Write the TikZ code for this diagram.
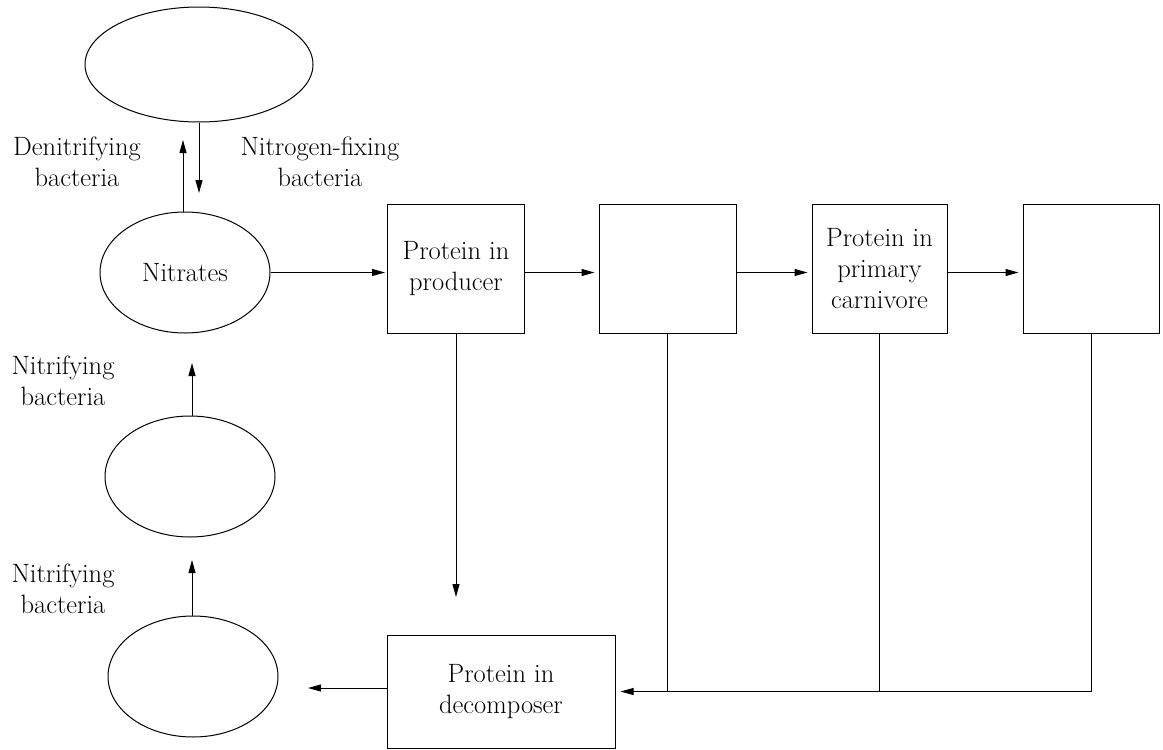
\documentclass[tikz,border=0pt]{standalone}
\usetikzlibrary{shapes.geometric,arrows.meta}
\begin{document}
\begin{tikzpicture}[x=1pt,y=-1pt,
  every node/.style={font=\fontsize{26.5}{31}\selectfont},
  line/.style={line width=1pt},
  arr/.style={line, -{Triangle[length=13pt,width=7pt]}},
  pool/.style={draw, line width=1pt, ellipse, inner sep=0pt},
  stock/.style={draw, line width=1pt, rectangle, inner sep=0pt, align=center},
  lab/.style={align=center, inner sep=0pt}]
\useasboundingbox (0,0) rectangle (1163,750);

% nitrogen pools
\node[pool, minimum width=228pt, minimum height=115pt] (air) at (199,64.5) {};
\node[pool, minimum width=170pt, minimum height=121pt] (nit) at (185,272.5) {Nitrates};
\node[pool, minimum width=170pt, minimum height=121pt] (mid) at (190,476.5) {};
\node[pool, minimum width=170pt, minimum height=121pt] (bot) at (193,676.5) {};

% protein stores
\node[stock, minimum width=137pt, minimum height=129pt] (prod) at (456,268.5) {Protein in\\producer};
\node[stock, minimum width=137pt, minimum height=129pt] (herb) at (667.5,268.5) {};
\node[stock, minimum width=135pt, minimum height=129pt] (carn) at (879.5,268.5) {Protein in\\primary\\carnivore};
\node[stock, minimum width=136pt, minimum height=129pt] (top) at (1091,268.5) {};
\node[stock, minimum width=228pt, minimum height=113pt] (dec) at (501,691.5) {Protein in\\decomposer};

% labels
\node[lab] (den) at (77,162) {Denitrifying\\bacteria};
\node[lab] (fix) at (320,162) {Nitrogen-fixing\\bacteria};
\node[lab] (nr1) at (63,381) {Nitrifying\\bacteria};
\node[lab] (nr2) at (63,589) {Nitrifying\\bacteria};

% free arrow ends
\coordinate (denTip) at (183,140);
\coordinate (fixTip) at (199,193);
\coordinate (nr1Tip) at (192,363);
\coordinate (nr2Tip) at (192,560);
\coordinate (decTip) at (456,597);
\coordinate (outTip) at (308,688);

% exchanges with the air
\draw[arr] (denTip |- nit.north) -- (denTip);
\draw[arr] (air.south) -- (fixTip);

% nitrification
\draw[arr] (nr1Tip |- mid.north) -- (nr1Tip);
\draw[arr] (nr2Tip |- bot.north) -- (nr2Tip);

% food chain
\draw[arr, shorten >=2pt] (nit.east) -- (prod.west |- nit.east);
\draw[arr, shorten >=4pt] (prod.east |- nit.east) -- (herb.west |- nit.east);
\draw[arr, shorten >=4pt] (herb.east |- nit.east) -- (carn.west |- nit.east);
\draw[arr, shorten >=4pt] (carn.east |- nit.east) -- (top.west |- nit.east);

% dead matter to decomposers
\draw[arr] (prod.south) -- (decTip);
\draw[line] (herb.south) -- (herb.south |- dec.east);
\draw[line] (carn.south) -- (carn.south |- dec.east);
\draw[arr, shorten >=5pt] (top.south) |- (dec.east);

% decomposer output
\draw[arr] (dec.west |- outTip) -- (outTip);
\end{tikzpicture}
\end{document}
